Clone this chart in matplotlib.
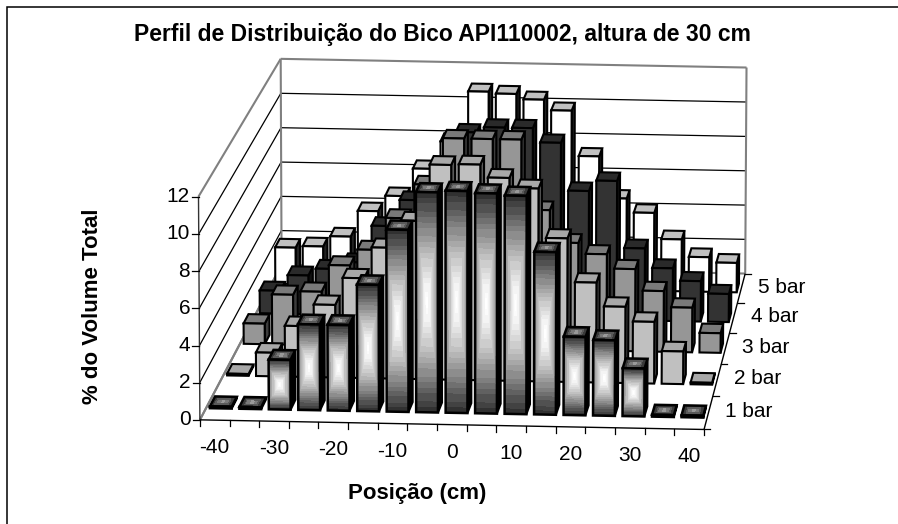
import numpy as np
import matplotlib
matplotlib.use("Agg")
import matplotlib.pyplot as plt
from matplotlib.patches import Polygon

plt.rcParams['font.family'] = ['Liberation Sans', 'DejaVu Sans']

positions = [-40, -35, -30, -25, -20, -15, -10, -5, 0, 5, 10, 15, 20, 25, 30, 35, 40]
series_names = ['1 bar', '2 bar', '3 bar', '4 bar', '5 bar']
bar1 = [0.1, 0.1, 2.7, 4.65, 4.65, 6.85, 9.85, 11.9, 12.0, 11.9, 11.8, 8.8, 4.25, 4.1, 2.6, 0.1, 0.1]
bar2 = [0.1, 1.3, 2.8, 4.0, 5.5, 7.2, 8.7, 11.8, 11.85, 11.15, 10.6, 7.9, 5.5, 4.2, 3.4, 1.8, 0.1]
bar3 = [1.15, 2.8, 3.0, 4.5, 5.4, 7.2, 9.1, 11.7, 11.7, 11.7, 7.8, 6.0, 5.4, 4.6, 3.4, 2.5, 1.1]
bar4 = [1.3, 2.2, 2.6, 3.0, 5.1, 6.6, 7.2, 10.5, 10.8, 10.8, 10.0, 7.3, 7.9, 4.1, 3.0, 2.3, 1.6]
bar5 = [2.1, 2.2, 2.8, 4.3, 5.2, 6.8, 8.4, 11.3, 11.2, 10.9, 10.3, 7.7, 5.3, 4.5, 3.0, 2.0, 1.7]
all_series = [bar1, bar2, bar3, bar4, bar5]
y_ticks = [0, 2, 4, 6, 8, 10, 12]
x_labels = ['-40', '-30', '-20', '-10', '0', '10', '20', '30', '40']

NX, NS, ZMAX = len(positions), len(series_names), 12.0

# Camera of the 3-D box: category index, series index, value -> pixel
anchors = [((0, 0, 0), (200.7, 420)), ((NX, 0, 0), (703, 430)),
           ((0, NS, 0), (281, 265)), ((NX, NS, 0), (746, 272.7)),
           ((0, 0, ZMAX), (198, 196)), ((NX, 0, ZMAX), (706, 206)),
           ((0, NS, ZMAX), (281, 59)), ((NX, NS, ZMAX), (746, 68))]
A = []
for (a, b, c), (px, py) in anchors:
    A.append([a, b, c, 1, 0, 0, 0, 0, -px*a, -px*b, -px*c, -px])
    A.append([0, 0, 0, 0, a, b, c, 1, -py*a, -py*b, -py*c, -py])
P = np.linalg.svd(np.array(A))[2][-1].reshape(3, 4)

def proj(x, s, z):
    x, s, z = np.asarray(x, float), np.asarray(s, float), np.asarray(z, float)
    w = P[2, 0]*x + P[2, 1]*s + P[2, 2]*z + P[2, 3]
    return ((P[0, 0]*x + P[0, 1]*s + P[0, 2]*z + P[0, 3]) / w,
            (P[1, 0]*x + P[1, 1]*s + P[1, 2]*z + P[1, 3]) / w)

fig = plt.figure(figsize=(8.98, 5.24), dpi=100)
ax = fig.add_axes([0, 0, 1, 1])
ax.set_xlim(0, 898)
ax.set_ylim(524, 0)
ax.axis('off')

GRAY = '#808080'
def line(p0, p1, color='k', lw=1.0, z=1):
    x0, y0 = proj(*p0)
    x1, y1 = proj(*p1)
    ax.plot([x0, x1], [y0, y1], color=color, lw=lw, zorder=z, solid_capstyle='butt')

# Frame: only the top and left edges are inside the picture
ax.plot([6.5, 6.5, 898], [524, 6.5, 6.5], color='k', lw=1.1, solid_joinstyle='miter')

# Walls and gridlines
for t in y_ticks:
    col, lw = ('k', 0.9) if 0 < t < 12 else (GRAY, 1.5)
    line((0, NS, t), (NX, NS, t), col, lw)
    line((0, 0, t), (0, NS, t), col, lw)
line((0, NS, 0), (0, NS, 12), GRAY, 1.5)
line((NX, NS, 0), (NX, NS, 12), GRAY, 1.5)
line((0, 0, 0), (0, NS, 0), GRAY, 1.5)
line((0, 0, 0), (0, 0, 12), '#333333', 1.0, 2)
line((0, 0, 0), (NX, 0, 0), 'k', 1.0, 2)
line((NX, 0, 0), (NX, NS, 0), 'k', 1.0, 2)

# Ticks and labels
FS = 15
for t in y_ticks:
    x0, y0 = proj(0, 0, t)
    ax.plot([x0-7, x0], [y0, y0], color='k', lw=0.9)
    ax.text(x0-9, y0, str(t), ha='right', va='center', fontsize=FS)
for i in range(NX+1):
    x0, y0 = proj(i, 0, 0)
    ax.plot([x0, x0], [y0, y0+6], color='k', lw=0.9)
for i, lab in enumerate(x_labels):
    x0, y0 = proj(2*i+0.5, 0, 0)
    ax.text(x0, y0+27.5, lab, ha='center', va='center', fontsize=FS)
for i in range(NS+1):
    x0, y0 = proj(NX, i, 0)
    ax.plot([x0, x0+6], [y0, y0], color='k', lw=0.9)
for i, lab in enumerate(series_names):
    x0, y0 = proj(NX, i+0.5, 0)
    ax.text(x0+17, y0-1, lab, ha='left', va='center', fontsize=FS)

ax.text(442.5, 35, 'Perfil de Distribuição do Bico API110002, altura de 30 cm',
        ha='center', va='center', fontsize=16.5, fontweight='bold')
ax.text(417, 494, 'Posição (cm)', ha='center', va='center', fontsize=16, fontweight='bold')
ax.text(93, 306, '% do Volume Total', ha='center', va='center', rotation=90,
        fontsize=16, fontweight='bold')

# Bars
W, D = 0.74, 0.3
front_c = {1: '#C0C0C0', 2: '#969696', 3: '#333333', 4: '#FFFFFF'}
top_c = {1: '#A8A8A8', 2: '#7A7A7A', 3: '#2A2A2A', 4: '#C0C0C0'}
side_c = {1: '#5A5A5A', 2: '#3C3C3C', 3: '#111111', 4: '#222222'}

def face(corners, fc, z, lw=1.5):
    xs, ys = proj(*np.array(corners).T)
    ax.add_patch(Polygon(np.c_[xs, ys], closed=True, fc=fc, ec='k', lw=lw,
                         joinstyle='miter', zorder=z))

def grad_mesh(c00, c10, c01, c11, light, dark, z, nu=30, nv=60, bands=16, xf=0.7, gamma=1.35):
    uu, vv = np.meshgrid(np.linspace(0, 1, nu+1), np.linspace(0, 1, nv+1))
    c = [np.array(k, float) for k in (c00, c10, c01, c11)]
    pts = [(1-uu)*(1-vv)*c[0][i] + uu*(1-vv)*c[1][i] + (1-uu)*vv*c[2][i] + uu*vv*c[3][i]
           for i in range(3)]
    X, Y = proj(*pts)
    um, vm = (uu[:-1, :-1]+uu[1:, 1:])/2, (vv[:-1, :-1]+vv[1:, 1:])/2
    t = np.maximum(np.abs(um-.5)*2*xf, np.abs(vm-.5)*2)
    t = np.floor(t*bands)/bands
    ax.pcolormesh(X, Y, light-(light-dark)*t**gamma, cmap='gray', vmin=0, vmax=1, shading='flat',
                  antialiased=False, linewidth=0, zorder=z)

for s in range(NS-1, -1, -1):
    for c in range(NX):
        h = all_series[s][c]
        x0, x1 = c+.5-W/2, c+.5+W/2
        d0, d1 = s+.5-D/2, s+.5+D/2
        z = 10 + (NS-s)*100 + c*3
        face([(x1, d0, 0), (x1, d1, 0), (x1, d1, h), (x1, d0, h)],
             side_c.get(s, '#000000'), z)
        if s == 0:
            grad_mesh((x0, d0, h), (x1, d0, h), (x0, d1, h), (x1, d1, h), 0.6, 0.1, z+1, 12, 6, 4, 1.0, 1.0)
            face([(x0, d0, h), (x1, d0, h), (x1, d1, h), (x0, d1, h)], 'none', z+1, 1.8)
            grad_mesh((x0, d0, 0), (x1, d0, 0), (x0, d0, h), (x1, d0, h), 1.0, 0.13, z+2, 30, 80, 18)
            face([(x0, d0, 0), (x1, d0, 0), (x1, d0, h), (x0, d0, h)], 'none', z+2, 1.8)
        else:
            face([(x0, d0, h), (x1, d0, h), (x1, d1, h), (x0, d1, h)], top_c[s], z+1)
            face([(x0, d0, 0), (x1, d0, 0), (x1, d0, h), (x0, d0, h)], front_c[s], z+2)

fig.savefig('out.png', dpi=100)
